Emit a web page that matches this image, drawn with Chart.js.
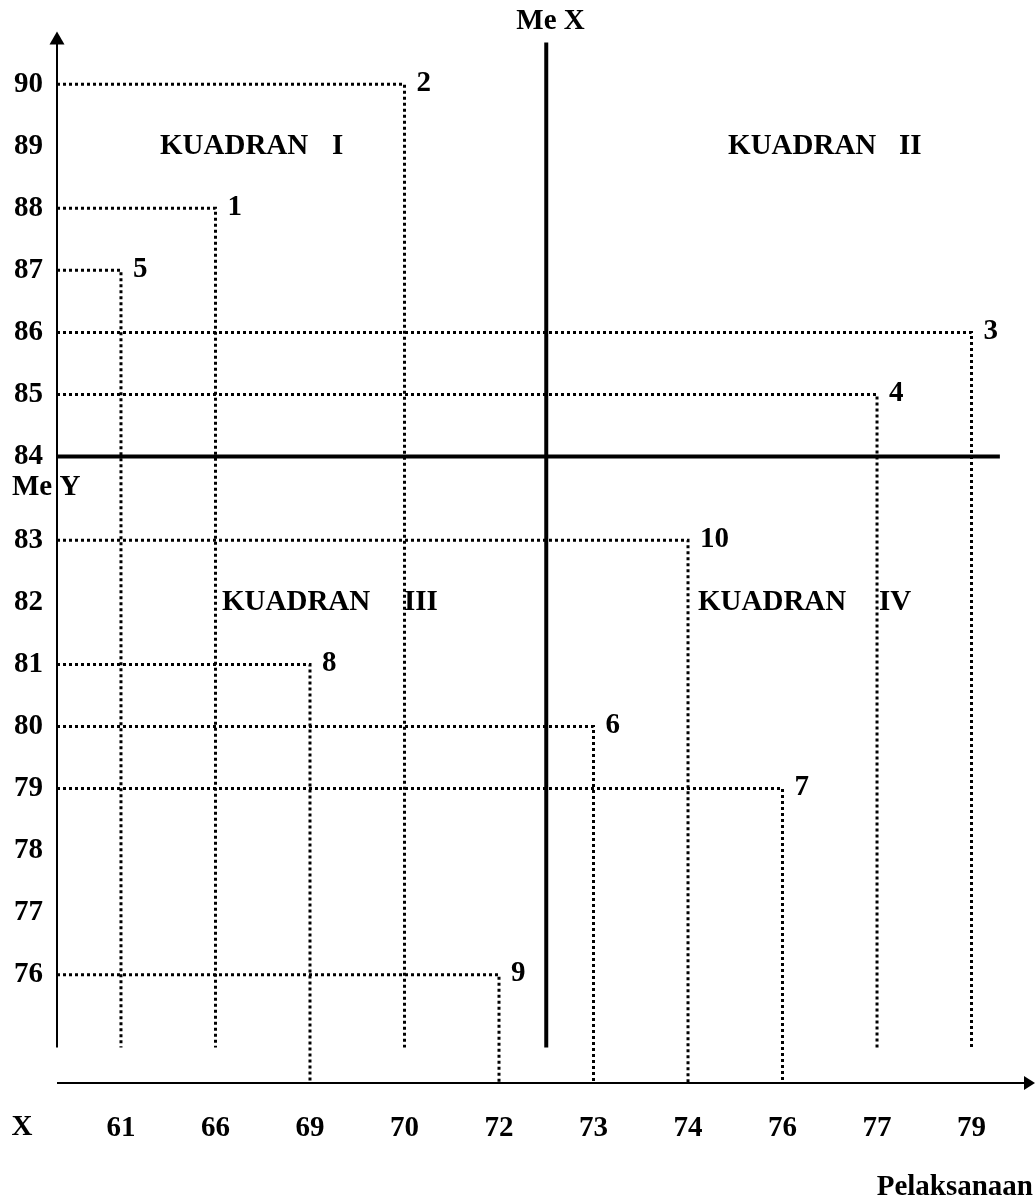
<!DOCTYPE html>
<html><head><meta charset="utf-8">
<script src="https://cdn.jsdelivr.net/npm/chart.js@4"></script>
<style>html,body{margin:0;padding:0;background:#fff}#wrap{width:1035px;height:1200px}</style>
</head><body><div id="wrap"><canvas id="c" width="1035" height="1200"></canvas></div>
<script>
// ---------- data ----------
const xCategories = ['61','66','69','70','72','73','74','76','77','79'];
const yTickValues = [90,89,88,87,86,85,84,83,82,81,80,79,78,77,76];
const pointIds = ['1','2','3','4','5','6','7','8','9','10'];
const pointX = [66,70,79,77,61,73,76,69,72,74];
const pointY = [88,90,86,85,87,80,79,81,76,83];
const medianX = 72.5;
const medianY = 84;
const quadrantNumerals = ['I','II','III','IV'];
const quadrantWord = 'KUADRAN';
const xAxisName = 'X';
const xAxisTitle = 'Pelaksanaan';

// ---------- scale helpers / layout constants ----------
const Y_BREAK = 0.35;           // visual gap of the axis below the Y median label
const X_MIN = -0.677, X_MAX = 9.46;
const Y_MIN = 73.906, Y_MAX = 90.85;
const STUB_BOTTOM = 74.48;      // lower end of y-axis, Me X line and upper guides
const MEX_TOP = 90.67;
const MEY_RIGHT = 9.30;
const FONT_FAMILY = '"Liberation Serif", "Times New Roman", serif';
const FONT_SIZE = 29;
const CSS_FONT = 'bold ' + FONT_SIZE + 'px ' + FONT_FAMILY;

function yPos(v){ return v < medianY ? v - Y_BREAK : v; }
function xPos(v){
  const nums = xCategories.map(Number);
  for (let i = 0; i < nums.length - 1; i++) {
    if (v >= nums[i] && v <= nums[i+1]) return i + (v - nums[i]) / (nums[i+1] - nums[i]);
  }
  return nums.indexOf(v);
}

const datasets = [];
pointX.forEach((xv, k) => {
  const xi = xPos(xv), yi = yPos(pointY[k]);
  const end = pointY[k] > medianY ? STUB_BOTTOM : Y_MIN;
  datasets.push({
    label: pointIds[k],
    data: [{x: X_MIN, y: yi}, {x: xi, y: yi}, {x: xi, y: end}],
    showLine: true, borderColor: '#000', borderWidth: 3, borderDash: [3, 3],
    pointRadius: 0, fill: false, tension: 0
  });
});
datasets.push({
  label: 'Me X',
  data: [{x: xPos(medianX), y: MEX_TOP}, {x: xPos(medianX), y: STUB_BOTTOM}],
  showLine: true, borderColor: '#000', borderWidth: 4, pointRadius: 0, fill: false
});
datasets.push({
  label: 'Me Y',
  data: [{x: X_MIN, y: yPos(medianY)}, {x: MEY_RIGHT, y: yPos(medianY)}],
  showLine: true, borderColor: '#000', borderWidth: 4, pointRadius: 0, fill: false
});

const decor = {
  id: 'decor',
  afterDraw(chart) {
    const {ctx, chartArea: a, scales: {x, y}} = chart;
    ctx.save();
    ctx.fillStyle = '#000'; ctx.strokeStyle = '#000';
    // y axis with arrow
    const ax = a.left;
    const yBot = y.getPixelForValue(STUB_BOTTOM);
    ctx.lineWidth = 2;
    ctx.beginPath(); ctx.moveTo(ax, a.top + 10); ctx.lineTo(ax, yBot); ctx.stroke();
    ctx.beginPath(); ctx.moveTo(ax, a.top); ctx.lineTo(ax - 7.5, a.top + 13); ctx.lineTo(ax + 7.5, a.top + 13); ctx.closePath(); ctx.fill();
    // x axis with arrow
    const ay = a.bottom, tipX = chart.width;
    ctx.beginPath(); ctx.moveTo(ax, ay); ctx.lineTo(tipX - 8, ay); ctx.stroke();
    ctx.beginPath(); ctx.moveTo(tipX, ay); ctx.lineTo(tipX - 11, ay - 7); ctx.lineTo(tipX - 11, ay + 7); ctx.closePath(); ctx.fill();

    ctx.font = CSS_FONT;
    ctx.textBaseline = 'middle';
    // point numbers
    ctx.textAlign = 'left';
    pointX.forEach((xv, k) => {
      const px = x.getPixelForValue(xPos(xv)), py = y.getPixelForValue(yPos(pointY[k]));
      ctx.fillText(pointIds[k], px + 12, py - 1);
    });
    // median labels
    const mx = x.getPixelForValue(xPos(medianX));
    ctx.fillText('Me X', mx - 30, 22);
    ctx.fillText('Me Y', 12, y.getPixelForValue(yPos(medianY)) + 31);
    // axis names
    ctx.textAlign = 'center';
    ctx.fillText(xAxisName, 22, a.bottom + 45);
    ctx.textAlign = 'right';
    ctx.fillText(xAxisTitle, chart.width - 2, 1188);
    // quadrant labels
    ctx.textAlign = 'left';
    const q = [
      {w: 0.413, n: 2.233, y: 89},
      {w: 6.424, n: 8.233, y: 89},
      {w: 1.069, n: 2.995, y: 82},
      {w: 6.106, n: 8.021, y: 82}
    ];
    q.forEach((o, k) => {
      const py = y.getPixelForValue(yPos(o.y));
      ctx.fillText(quadrantWord, x.getPixelForValue(o.w), py);
      ctx.fillText(quadrantNumerals[k], x.getPixelForValue(o.n), py);
    });
    ctx.restore();
  }
};

const tickFont = {family: FONT_FAMILY, size: FONT_SIZE, weight: 'bold'};
new Chart(document.getElementById('c'), {
  type: 'scatter',
  data: {datasets},
  options: {
    responsive: false, animation: false,
    layout: {padding: {top: 27, right: 20, bottom: 0, left: 0}},
    plugins: {legend: {display: false}, tooltip: {enabled: false}},
    scales: {
      x: {
        type: 'linear', min: X_MIN, max: X_MAX,
        grid: {display: false, drawTicks: false}, border: {display: false},
        afterBuildTicks: s => { s.ticks = xCategories.map((c, i) => ({value: i})); },
        afterFit: s => { s.height = 117; },
        ticks: {autoSkip: false, maxRotation: 0, minRotation: 0, padding: 28, font: tickFont, color: '#000',
                callback: (v, i) => xCategories[i]}
      },
      y: {
        type: 'linear', min: Y_MIN, max: Y_MAX,
        grid: {display: false, drawTicks: false}, border: {display: false},
        afterBuildTicks: s => { s.ticks = yTickValues.map(v => ({value: yPos(v)})); },
        afterFit: s => { s.width = 57; },
        ticks: {autoSkip: false, padding: 14, font: tickFont, color: '#000',
                callback: (v, i) => String(yTickValues[i])}
      }
    }
  },
  plugins: [decor]
});
</script></body></html>
